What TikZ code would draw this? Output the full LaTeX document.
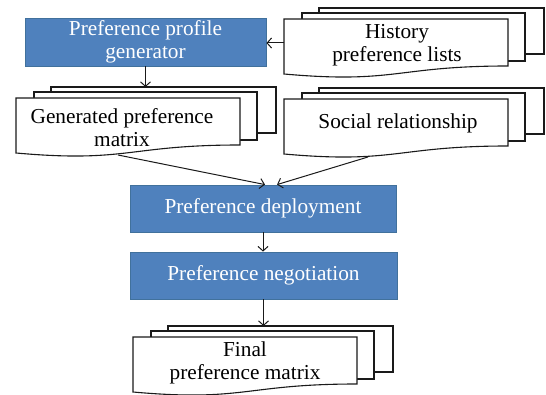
\documentclass[tikz,border=0pt]{standalone}
\usepackage{fontspec}
\setmainfont{Liberation Serif}
\usetikzlibrary{arrows.meta}
\definecolor{boxblue}{HTML}{4F81BD}
\definecolor{boxedge}{HTML}{41719C}
\definecolor{inkline}{HTML}{1A1A1A}
\tikzset{
  procbox/.style={draw=boxedge, fill=boxblue, text=white, line width=0.8pt,
    font=\fontsize{21.3}{23}\selectfont, align=center, inner sep=0pt},
  doctext/.style={text=black, font=\fontsize{21.3}{22.5}\selectfont, align=center, inner sep=0pt},
  pageline/.style={draw=inkline, line width=1.1pt, fill=white, line join=miter},
  conn/.style={draw=inkline, line width=1pt, -{Straight Barb[length=4.5pt,width=10pt]}},
}
% multi-document: #1 name, #2 left x, #3 top y of the front page
\newcommand\mdocpages[3]{%
  \path[pageline] ({#2+35},{#3-11}) rectangle ({#2+260},{#3+35});
  \path[pageline] ({#2+18},{#3-6}) rectangle ({#2+241},{#3+42});
  \path[pageline] (#2,#3) -- ({#2+224},#3) -- ({#2+224},{#3+47})
     .. controls ({#2+112},{#3+47}) and ({#2+112},{#3+65}) .. (#2,{#3+55}) -- cycle;
  \coordinate (#1-top) at ({#2+112},{#3-11});
  \coordinate (#1-left) at (#2,{#3+24});
}
\begin{document}
\begin{tikzpicture}[x=1pt,y=-1pt]
\useasboundingbox (0,0) rectangle (546,395);
% blue process boxes
\node[procbox, minimum width=241pt, minimum height=48pt] (gen) at (145.5,42) {Preference profile\\generator};
\node[procbox, minimum width=266pt, minimum height=47pt] (dep) at (263,208.5) {Preference deployment};
\node[procbox, minimum width=267pt, minimum height=47pt] (neg) at (263.5,275.5) {Preference negotiation};
% document stacks
\mdocpages{hpl}{284}{19}
\node[doctext] (hpltext) at (397,45.3) {History\\preference lists};
\mdocpages{gpm}{16}{98}
\node[doctext] (gpmtext) at (122,127.5) {Generated preference\\matrix};
\mdocpages{srl}{284}{99}
\node[doctext] (srltext) at (398,123.3) {Social relationship};
\mdocpages{fpm}{133}{337}
\node[doctext] (fpmtext) at (245,362.7) {Final\\preference matrix};
\coordinate (gpm-out) at (118,155);
\coordinate (srl-out) at (368,157);
% connectors
\draw[conn] (hpl-left) -- (gen.east |- hpl-left);
\draw[conn] (gen.south) -- (gen.south |- gpm-top);
\draw[conn] (gpm-out) -- ([xshift=2pt]dep.north);
\draw[conn] (srl-out) -- ([xshift=14pt]dep.north);
\draw[conn] (dep.south) -- (neg.north -| dep.south);
\draw[conn] (neg.south) -- (neg.south |- fpm-top);
\end{tikzpicture}
\end{document}
